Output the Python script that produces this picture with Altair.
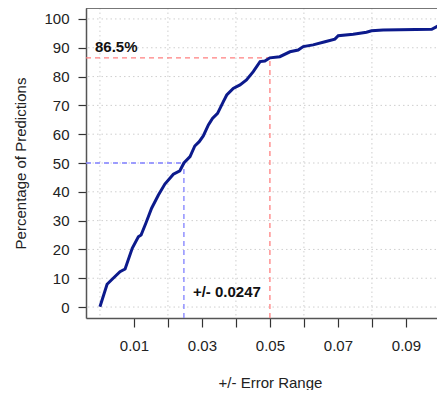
import altair as alt
import pandas as pd

# ---- data ----
err_x = [0.0, 0.0021, 0.0039, 0.0059, 0.0074, 0.0095, 0.0113, 0.0121, 0.0135, 0.0152,
         0.0172, 0.0191, 0.0216, 0.0235, 0.0247, 0.0265, 0.0279, 0.0292, 0.0304, 0.0319,
         0.0331, 0.0346, 0.0363, 0.0373, 0.0392, 0.0412, 0.0431, 0.0451, 0.0471, 0.0485,
         0.0500, 0.0529, 0.0559, 0.0583, 0.0598, 0.0627, 0.0662, 0.0691, 0.0701, 0.0745,
         0.0784, 0.0799, 0.0833, 0.0976, 0.0995, 0.1015]
pct_y = [0.1, 7.9, 10.0, 12.3, 13.2, 20.4, 24.4, 25.0, 29.1, 34.3,
         38.9, 42.7, 46.1, 47.3, 50.0, 52.2, 55.9, 57.4, 59.4, 63.2,
         65.5, 67.2, 71.3, 73.6, 75.9, 77.1, 78.8, 81.7, 85.2, 85.4,
         86.5, 86.9, 88.6, 89.2, 90.4, 91.0, 92.1, 93.0, 94.2, 94.7,
         95.4, 95.9, 96.2, 96.4, 97.6, 97.7]

cut_err = [0.05, 0.0247]
cut_pct = [86.5, 50.0]
cut_color = ["#ff8080", "#8080ff"]

x_ticks = [0.01, 0.02, 0.03, 0.04, 0.05, 0.06, 0.07, 0.08, 0.09, 0.10]
y_ticks = [0, 10, 20, 30, 40, 50, 60, 70, 80, 90, 100]
x_grid = [0.0, 0.02, 0.04, 0.06, 0.08, 0.10]

X_DOM = [-0.0041, 0.1015]
Y_DOM = [-3.8, 103.8]

W, H = 359, 310
FONT = "Liberation Sans"

xs = alt.Scale(domain=X_DOM, nice=False, zero=False)
ys = alt.Scale(domain=Y_DOM, nice=False, zero=False)

XAX = alt.Axis(
    values=x_ticks, grid=False, tickSize=9, tickColor="#333333", tickWidth=1.2,
    domainColor="#555555", domainWidth=1.5,
    labelExpr="round(datum.value*100) % 2 == 1 ? format(datum.value, '.2f') : ''",
    labelFont=FONT, labelFontSize=15, labelColor="#222222", labelPadding=11,
    labelFlush=False, labelOverlap=False,
    title="+/- Error Range", titleFont=FONT, titleFontSize=15,
    titleFontWeight="normal", titleColor="#222222",
    titleX=184, titleY=69, titleBaseline="alphabetic")
YAX = alt.Axis(
    values=y_ticks, grid=False, tickSize=8, tickColor="#333333", tickWidth=1.2,
    domainColor="#555555", domainWidth=1.5,
    labelFont=FONT, labelFontSize=15, labelColor="#222222", labelPadding=9,
    labelFlush=False, labelOverlap=False,
    title="Percentage of Predictions", titleFont=FONT, titleFontSize=15,
    titleFontWeight="normal", titleColor="#222222",
    titleX=-66, titleY=155, titleBaseline="middle", titleAngle=-90)


def X(f):
    return alt.X(f, scale=xs, axis=XAX)


def Y(f):
    return alt.Y(f, scale=ys, axis=YAX)


curve = pd.DataFrame({"err": err_x, "pct": pct_y})
cuts = pd.DataFrame({"err": cut_err, "pct": cut_pct, "col": cut_color,
                     "x0": [X_DOM[0]] * 2, "y0": [Y_DOM[0]] * 2, "ylab": [0.0, 0.0],
                     "lab_pct": [f"{p}%" for p in cut_pct],
                     "lab_err": [f"+/- {e}" for e in cut_err]})

grid_style = dict(color="#cfcfcf", strokeDash=[1.5, 3], strokeWidth=1)

hgrid = alt.Chart(pd.DataFrame({"v": y_ticks})).mark_rule(**grid_style).encode(
    y=Y("v:Q"))
vgrid = alt.Chart(pd.DataFrame({"v": x_grid})).mark_rule(**grid_style).encode(
    x=X("v:Q"))

hcut = alt.Chart(cuts).mark_rule(strokeDash=[5, 4], strokeWidth=1.3).encode(
    x=X("x0:Q"), x2="err:Q", y=Y("pct:Q"),
    color=alt.Color("col:N", scale=None))
vcut = alt.Chart(cuts).mark_rule(strokeDash=[5, 4], strokeWidth=1.3).encode(
    x=X("err:Q"), y=Y("y0:Q"), y2="pct:Q",
    color=alt.Color("col:N", scale=None))

line = alt.Chart(curve).mark_line(color="#0c1a8c", strokeWidth=3, clip=True).encode(
    x=X("err:Q"), y=Y("pct:Q"))

top_border = alt.Chart(pd.DataFrame({"a": [0]})).mark_rule(
    color="#555555", strokeWidth=1.5).encode(
    x=alt.value(0), x2=alt.value(W), y=alt.value(0))

lab1 = alt.Chart(cuts.iloc[[0]]).mark_text(
    font=FONT, fontSize=15, fontWeight="bold", color="#111111",
    align="left", baseline="alphabetic", dx=9, dy=-6).encode(
    x=X("x0:Q"), y=Y("pct:Q"), text="lab_pct:N")
lab2 = alt.Chart(cuts.iloc[[1]]).mark_text(
    font=FONT, fontSize=15, fontWeight="bold", color="#111111",
    align="left", baseline="alphabetic", dx=9, dy=-10).encode(
    x=X("err:Q"), y=Y("ylab:Q"), text="lab_err:N")

chart = alt.layer(hgrid, vgrid, hcut, vcut, line, top_border, lab1, lab2).properties(
    width=W, height=H,
    autosize=alt.AutoSizeParams(type="none"),
    padding={"left": 78, "top": 0, "right": -8, "bottom": 72},
).configure_view(stroke=None).configure(background="white")

chart.save("out.html", embed_options={"renderer": "svg", "actions": False})
